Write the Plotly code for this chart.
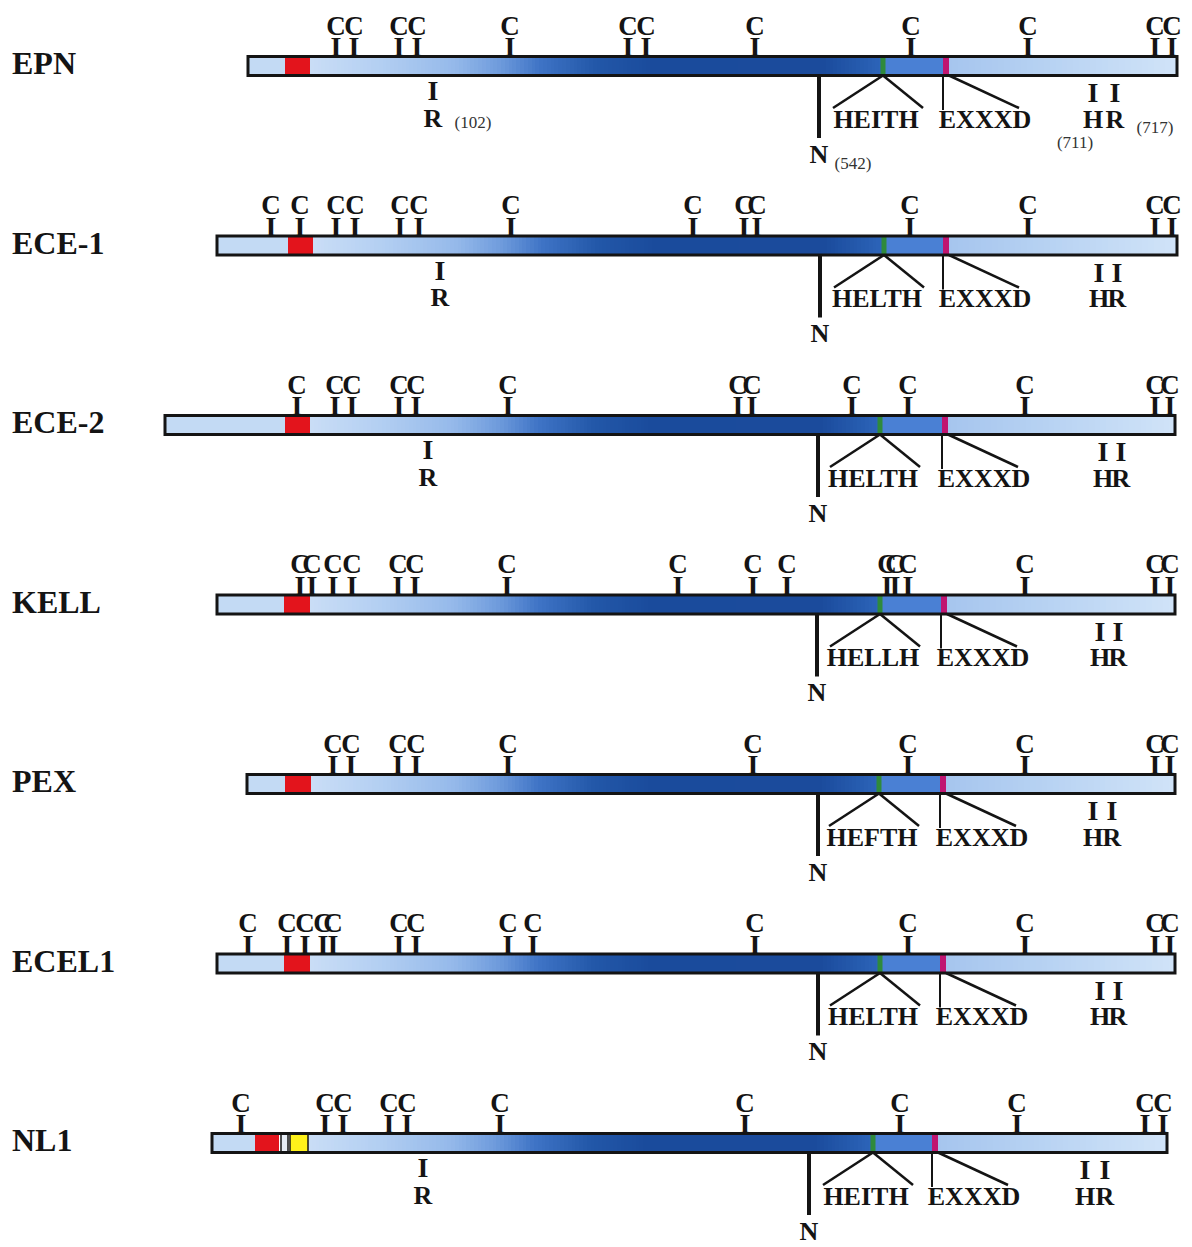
import numpy as np
import plotly.graph_objects as go

# ---------------- data (positions on the drawing's sequence scale) ----------------
names = ["EPN", "ECE-1", "ECE-2", "KELL", "PEX", "ECEL1", "NL1"]
bar_start = [248, 217, 165, 217, 247, 217, 212]
bar_end = [1177, 1177, 1175, 1175, 1175, 1175, 1167]
red_start = [285, 288, 285, 284, 285, 284, 255]
red_end = [310, 313, 310, 310, 311, 310, 279]
yellow_start = [None, None, None, None, None, None, 290]
yellow_end = [None, None, None, None, None, None, 308]
gap_box_start = [None, None, None, None, None, None, 281]
gap_box_end = [None, None, None, None, None, None, 288]
zinc_site = [883, 884, 880, 880, 879, 880, 873]
glu_site = [946, 946, 945, 944, 943, 943, 935]
n_site = [819, 820, 818, 817, 818, 818, 809]
r_site = [433, 440, 428, None, None, None, 423]
h_site = [1093, 1099, 1103, 1100, 1093, 1100, 1085]
r2_site = [1115, 1117, 1121, 1118, 1112, 1118, 1105]
motifs = ["HEITH", "HELTH", "HELTH", "HELLH", "HEFTH", "HELTH", "HEITH"]
cysteines = [
    [336, 354, 399, 417, 510, 628, 646, 755, 911, 1028, 1155, 1172],
    [271, 300, 336, 355, 400, 419, 511, 693, 744, 757, 910, 1028, 1155, 1172],
    [297, 335, 352, 399, 416, 508, 738, 752, 852, 908, 1025, 1155, 1170],
    [300, 312, 333, 352, 398, 415, 507, 678, 753, 787, 887, 895, 908, 1025, 1155, 1170],
    [333, 351, 398, 416, 508, 753, 908, 1025, 1155, 1170],
    [248, 287, 305, 323, 333, 399, 416, 508, 533, 755, 908, 1025, 1155, 1170],
    [241, 325, 343, 389, 407, 500, 745, 900, 1017, 1145, 1163],
]
# residue numbers noted for EPN
epn_notes = ["(102)", "(542)", "(711)", "(717)"]

# ---------------- layout constants ----------------
W, H = 1192, 1247
PAGE_OFF = 8  # default page margin of the html body
TOP, ROW = 66, 179.5
HB = 9.5  # half bar height
SERIF = "Liberation Serif"
INK = "#141414"

fig = go.Figure()
shapes = []

main_scale = [[0, '#c9ddf6'], [0.12, '#b3cff2'], [0.25, '#95b9ea'], [0.33, '#6e9bdc'],
              [0.4, '#3f74c6'], [0.5, '#2257a8'], [0.6, '#1a4b9c'], [0.9, '#1b4b9c'],
              [1, '#2c64b9']]
end_scale = [[0, '#a6c5ee'], [0.5, '#bad4f3'], [1, '#d0e3f8']]

cx, cy, ct = [], [], []
ix, iy = [], []
motif_x, motif_y, motif_t = [], [], []
line_x, line_y = [], []
thin_x, thin_y = [], []
n_x, n_y = [], []

for i, nm in enumerate(names):
    yc = TOP + i * ROW
    y0, y1 = yc - HB, yc + HB
    main0 = yellow_end[i] if yellow_end[i] else red_end[i]
    n = 150
    xe = np.linspace(main0, zinc_site[i], n + 1)
    fig.add_trace(go.Heatmap(x=xe, y=[y0, y1], z=[np.linspace(0, 1, n)], colorscale=main_scale,
                             zmin=0, zmax=1, showscale=False, hoverinfo='skip'))
    xe2 = np.linspace(glu_site[i], bar_end[i], 41)
    fig.add_trace(go.Heatmap(x=xe2, y=[y0, y1], z=[np.linspace(0, 1, 40)], colorscale=end_scale,
                             zmin=0, zmax=1, showscale=False, hoverinfo='skip'))
    shapes.append(dict(type='rect', x0=bar_start[i], x1=red_start[i], y0=y0, y1=y1,
                       fillcolor='#c3daf4', line=dict(width=0), layer='above'))
    shapes.append(dict(type='rect', x0=red_start[i], x1=red_end[i], y0=y0, y1=y1,
                       fillcolor='#e3141c', line=dict(width=0), layer='above'))
    if yellow_start[i]:
        shapes.append(dict(type='rect', x0=gap_box_start[i], x1=gap_box_end[i], y0=y0, y1=y1,
                           fillcolor='#e8eef6', line=dict(width=1.5, color=INK), layer='above'))
        shapes.append(dict(type='rect', x0=yellow_start[i], x1=yellow_end[i], y0=y0, y1=y1,
                           fillcolor='#fff21a', line=dict(width=1.5, color=INK), layer='above'))
    shapes.append(dict(type='rect', x0=zinc_site[i], x1=glu_site[i], y0=y0, y1=y1,
                       fillcolor='#4a80d4', line=dict(width=0), layer='above'))
    shapes.append(dict(type='rect', x0=zinc_site[i] - 2.5, x1=zinc_site[i] + 2.5, y0=y0, y1=y1,
                       fillcolor='#2f8a3c', line=dict(width=0), layer='above'))
    shapes.append(dict(type='rect', x0=glu_site[i] - 3, x1=glu_site[i] + 3, y0=y0, y1=y1,
                       fillcolor='#c01570', line=dict(width=0), layer='above'))
    shapes.append(dict(type='rect', x0=bar_start[i], x1=bar_end[i], y0=y0, y1=y1,
                       fillcolor='rgba(0,0,0,0)', line=dict(width=3, color=INK), layer='above'))

    for c in cysteines[i]:
        cx.append(c); cy.append(yc - 38); ct.append("C")
        ix.append(c); iy.append(yc - 17)
    if r_site[i]:
        ix.append(r_site[i]); iy.append(yc + 27)
        motif_x.append(r_site[i]); motif_y.append(yc + 54); motif_t.append("R")
    for hx, lab in ((h_site[i], "H"), (r2_site[i], "R")):
        ix.append(hx); iy.append(yc + 29)
        motif_x.append(hx); motif_y.append(yc + 55); motif_t.append(lab)
    n_x += [n_site[i], n_site[i], None]; n_y += [y1, yc + 72, None]
    motif_x.append(n_site[i]); motif_y.append(yc + 90); motif_t.append("N")
    z = zinc_site[i]
    line_x += [z, z - 50, None, z, z + 40, None]
    line_y += [y1, yc + 42, None, y1, yc + 42, None]
    g = glu_site[i]
    thin_x += [g - 3, g - 3, None]; thin_y += [y1, yc + 44, None]
    line_x += [g + 3, g + 73, None]; line_y += [y1, yc + 42, None]
    motif_x.append(z - 7); motif_y.append(yc + 55); motif_t.append(motifs[i])
    motif_x.append(g + 39); motif_y.append(yc + 55); motif_t.append("EXXXD")

fig.add_trace(go.Scatter(x=line_x, y=line_y, mode='lines', line=dict(color=INK, width=2.5),
                         hoverinfo='skip'))
fig.add_trace(go.Scatter(x=thin_x, y=thin_y, mode='lines', line=dict(color=INK, width=2),
                         hoverinfo='skip'))
fig.add_trace(go.Scatter(x=n_x, y=n_y, mode='lines', line=dict(color=INK, width=4),
                         hoverinfo='skip'))
fig.add_trace(go.Scatter(x=cx, y=cy, mode='text', text=ct, hoverinfo='skip',
                         textfont=dict(family=SERIF, size=27, color=INK, weight='bold')))
fig.add_trace(go.Scatter(x=ix, y=iy, mode='text', text=["I"] * len(ix), hoverinfo='skip',
                         textfont=dict(family=SERIF, size=28, color=INK, weight='bold')))
fig.add_trace(go.Scatter(x=motif_x, y=motif_y, mode='text', text=motif_t, hoverinfo='skip',
                         textfont=dict(family=SERIF, size=26, color=INK, weight='bold')))
fig.add_trace(go.Scatter(x=[12] * len(names), y=[TOP + i * ROW for i in range(len(names))],
                         mode='text', text=names, textposition='middle right', hoverinfo='skip',
                         textfont=dict(family=SERIF, size=32, color=INK, weight='bold')))
note_x = [r_site[0] + 40, n_site[0] + 34, h_site[0] - 18, r2_site[0] + 40]
note_y = [TOP + 58, TOP + 99, TOP + 78, TOP + 63]
fig.add_trace(go.Scatter(x=note_x, y=note_y, mode='text', text=epn_notes, hoverinfo='skip',
                         textfont=dict(family=SERIF, size=17, color='#333333')))

fig.update_layout(
    width=W, height=H, margin=dict(l=0, r=0, t=0, b=0),
    paper_bgcolor='white', plot_bgcolor='white', showlegend=False, shapes=shapes,
    xaxis=dict(range=[PAGE_OFF, W + PAGE_OFF], visible=False, fixedrange=True),
    yaxis=dict(range=[H + PAGE_OFF, PAGE_OFF], visible=False, fixedrange=True),
)
fig.write_html("out.html")
